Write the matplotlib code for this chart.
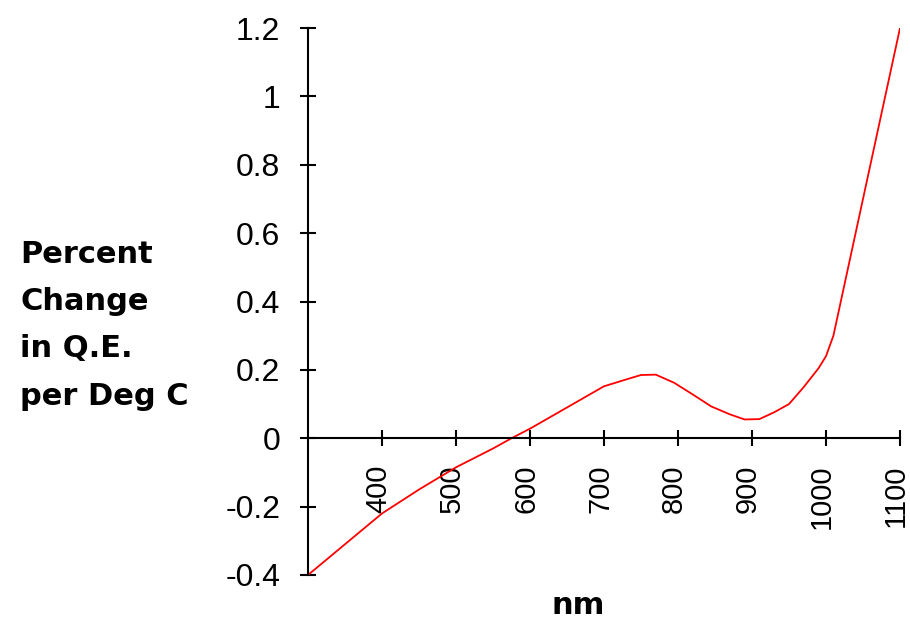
import matplotlib
matplotlib.use("Agg")
import matplotlib.pyplot as plt
import matplotlib.transforms as mtransforms

# percent change in Q.E. per deg C vs wavelength
wavelength = [300, 350, 400, 450, 500, 550, 575, 600, 650, 700, 730, 750, 770,
              795, 820, 845, 870, 890, 910, 930, 950, 970, 990, 1000, 1010, 1100]
qe_change = [-0.40, -0.31, -0.22, -0.15, -0.085, -0.03, 0.0, 0.028, 0.09, 0.152,
             0.172, 0.185, 0.186, 0.162, 0.128, 0.093, 0.07, 0.055, 0.056, 0.076,
             0.10, 0.15, 0.205, 0.24, 0.30, 1.20]

x_ticks = [400, 500, 600, 700, 800, 900, 1000, 1100]
y_ticks = [-0.4, -0.2, 0, 0.2, 0.4, 0.6, 0.8, 1, 1.2]
y_labels = ['-0.4', '-0.2', '0', '0.2', '0.4', '0.6', '0.8', '1', '1.2']
ylabel_lines = ['Percent', 'Change', 'in Q.E.', 'per Deg C']

plt.rcParams['font.family'] = ['Liberation Sans', 'DejaVu Sans']

fig = plt.figure(figsize=(9.1, 6.22), dpi=100)
ax = fig.add_axes([308 / 910, 1 - 575 / 622, (900 - 308) / 910, (575 - 28) / 622])

ax.plot(wavelength, qe_change, color='#ff0000', lw=1.3)

ax.set_xlim(300, 1100)
ax.set_ylim(-0.4, 1.2)

ax.spines['top'].set_visible(False)
ax.spines['right'].set_visible(False)
ax.spines['bottom'].set_position(('data', 0))
for s in ['left', 'bottom']:
    ax.spines[s].set_linewidth(1.5)
    ax.spines[s].set_color('black')

ax.set_xticks(x_ticks)
ax.set_xticklabels([str(t) for t in x_ticks], rotation=90, va='top', ha='center')
ax.set_yticks(y_ticks)
ax.set_yticklabels(y_labels)

ax.tick_params(axis='x', direction='inout', length=12, width=1.5, pad=13, labelsize=21)
ax.tick_params(axis='y', direction='inout', length=12, width=1.5, pad=14, labelsize=23)

# the old chart has its rotated labels sitting a few px left of the ticks
shift = mtransforms.ScaledTranslation(-4 / 100, 0, fig.dpi_scale_trans)
for lab in ax.get_xticklabels():
    lab.set_transform(lab.get_transform() + shift)

# y label is four lines of bold text left of the axis
bold = dict(fontsize=22, fontweight='bold', family='DejaVu Sans')
baselines = [263, 310, 357, 405]
for line, yb in zip(ylabel_lines, baselines):
    fig.text(20 / 910, 1 - yb / 622, line, ha='left', va='baseline', **bold)
fig.text(578 / 910, 1 - 614 / 622, 'nm', ha='center', va='baseline', **bold)

fig.savefig('out.png', dpi=100)
